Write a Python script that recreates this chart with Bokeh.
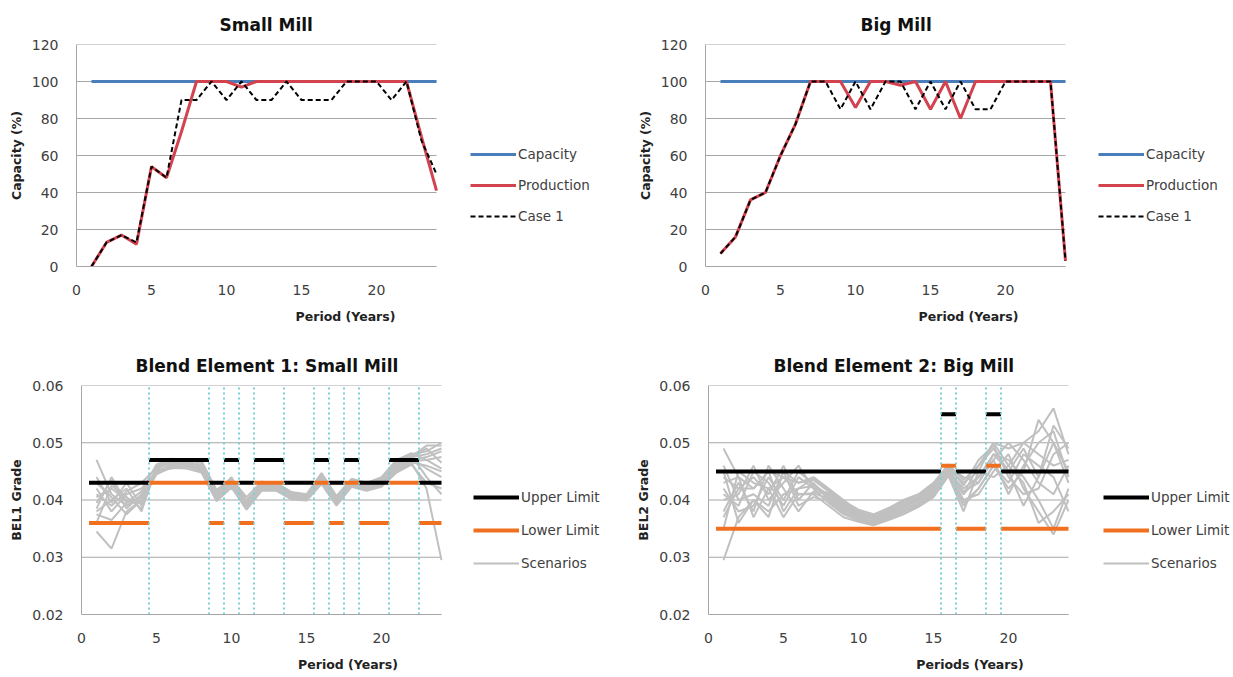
from bokeh.plotting import figure
from bokeh.models import Range1d, FixedTicker, PrintfTickFormatter, Legend, LegendItem
from bokeh.layouts import column, row
from bokeh.embed import file_html
from bokeh.resources import INLINE

FONT = "DejaVu Sans"

# ---------------- data ----------------
periods = [1, 2, 3, 4, 5, 6, 7, 8, 9, 10, 11, 12, 13, 14, 15, 16, 17, 18, 19, 20, 21, 22, 23, 24]
x_ticks = [0, 5, 10, 15, 20]
cap_ticks = [0, 20, 40, 60, 80, 100, 120]
grade_ticks = [0.02, 0.03, 0.04, 0.05, 0.06]

small_capacity = [100, 100, 100, 100, 100, 100, 100, 100, 100, 100, 100, 100,
                  100, 100, 100, 100, 100, 100, 100, 100, 100, 100, 100, 100]
small_production = [0, 13, 17, 12, 54, 48, 73, 100, 100, 100, 97, 100,
                    100, 100, 100, 100, 100, 100, 100, 100, 100, 100, 70, 41]
small_case1 = [0, 13, 17, 13, 54, 48, 90, 90, 100, 90, 100, 90,
               90, 100, 90, 90, 90, 100, 100, 100, 90, 100, 68, 50]

big_capacity = [100, 100, 100, 100, 100, 100, 100, 100, 100, 100, 100, 100,
                100, 100, 100, 100, 100, 100, 100, 100, 100, 100, 100, 100]
big_production = [7, 16, 36, 40, 60, 77, 100, 100, 100, 86, 100, 100,
                  98, 100, 85, 100, 80, 100, 100, 100, 100, 100, 100, 3]
big_case1 = [7, 16, 36, 40, 60, 77, 100, 100, 85, 100, 85, 100,
             100, 85, 100, 85, 100, 85, 85, 100, 100, 100, 100, 3]

bel1_upper = [0.043, 0.043, 0.043, 0.043, 0.047, 0.047, 0.047, 0.047, 0.043, 0.047, 0.043, 0.047,
              0.047, 0.043, 0.043, 0.047, 0.043, 0.047, 0.043, 0.043, 0.047, 0.047, 0.043, 0.043]
bel1_lower = [0.036, 0.036, 0.036, 0.036, 0.043, 0.043, 0.043, 0.043, 0.036, 0.043, 0.036, 0.043,
              0.043, 0.036, 0.036, 0.043, 0.036, 0.043, 0.036, 0.036, 0.043, 0.043, 0.036, 0.036]
bel1_scenarios = [
    [0.0405, 0.0420, 0.0400, 0.0395, 0.0455, 0.0465, 0.0468, 0.0460, 0.0410, 0.0435, 0.0395, 0.0425,
     0.0425, 0.0410, 0.0405, 0.0440, 0.0400, 0.0430, 0.0425, 0.0432, 0.0462, 0.0475, 0.0480, 0.0490],
    [0.0470, 0.0410, 0.0390, 0.0405, 0.0450, 0.0460, 0.0462, 0.0455, 0.0405, 0.0430, 0.0390, 0.0423,
     0.0420, 0.0405, 0.0402, 0.0435, 0.0395, 0.0428, 0.0420, 0.0428, 0.0455, 0.0470, 0.0475, 0.0485],
    [0.0345, 0.0315, 0.0380, 0.0400, 0.0445, 0.0458, 0.0460, 0.0450, 0.0400, 0.0428, 0.0385, 0.0420,
     0.0418, 0.0403, 0.0400, 0.0430, 0.0392, 0.0425, 0.0418, 0.0425, 0.0450, 0.0465, 0.0420, 0.0295],
    [0.0380, 0.0400, 0.0420, 0.0380, 0.0460, 0.0468, 0.0470, 0.0465, 0.0415, 0.0438, 0.0400, 0.0428,
     0.0428, 0.0412, 0.0408, 0.0445, 0.0405, 0.0435, 0.0428, 0.0438, 0.0468, 0.0480, 0.0485, 0.0500],
    [0.0420, 0.0380, 0.0410, 0.0420, 0.0448, 0.0462, 0.0465, 0.0458, 0.0408, 0.0432, 0.0392, 0.0426,
     0.0422, 0.0408, 0.0404, 0.0438, 0.0398, 0.0432, 0.0422, 0.0430, 0.0458, 0.0472, 0.0455, 0.0440],
    [0.0395, 0.0435, 0.0385, 0.0410, 0.0452, 0.0455, 0.0458, 0.0452, 0.0402, 0.0425, 0.0398, 0.0418,
     0.0424, 0.0406, 0.0403, 0.0433, 0.0402, 0.0427, 0.0424, 0.0427, 0.0452, 0.0468, 0.0470, 0.0475],
    [0.0440, 0.0395, 0.0430, 0.0390, 0.0458, 0.0466, 0.0464, 0.0462, 0.0412, 0.0440, 0.0388, 0.0430,
     0.0427, 0.0409, 0.0406, 0.0442, 0.0397, 0.0433, 0.0426, 0.0434, 0.0465, 0.0478, 0.0440, 0.0410],
    [0.0360, 0.0425, 0.0405, 0.0385, 0.0452, 0.0470, 0.0466, 0.0456, 0.0407, 0.0434, 0.0393, 0.0424,
     0.0421, 0.0404, 0.0407, 0.0437, 0.0401, 0.0429, 0.0421, 0.0429, 0.0460, 0.0474, 0.0490, 0.0465],
    [0.0385, 0.0440, 0.0395, 0.0415, 0.0462, 0.0472, 0.0470, 0.0468, 0.0418, 0.0437, 0.0405, 0.0432,
     0.0430, 0.0414, 0.0410, 0.0447, 0.0407, 0.0437, 0.0430, 0.0440, 0.0470, 0.0482, 0.0470, 0.0455],
    [0.0430, 0.0405, 0.0375, 0.0400, 0.0446, 0.0456, 0.0455, 0.0448, 0.0398, 0.0422, 0.0383, 0.0416,
     0.0416, 0.0401, 0.0399, 0.0428, 0.0390, 0.0423, 0.0416, 0.0423, 0.0448, 0.0462, 0.0430, 0.0420],
    [0.0410, 0.0390, 0.0415, 0.0430, 0.0456, 0.0464, 0.0467, 0.0459, 0.0409, 0.0436, 0.0396, 0.0427,
     0.0426, 0.0411, 0.0405, 0.0441, 0.0403, 0.0431, 0.0427, 0.0436, 0.0463, 0.0476, 0.0495, 0.0495],
    [0.0375, 0.0365, 0.0395, 0.0405, 0.0449, 0.0461, 0.0463, 0.0453, 0.0403, 0.0429, 0.0391, 0.0421,
     0.0419, 0.0402, 0.0401, 0.0431, 0.0394, 0.0426, 0.0419, 0.0426, 0.0453, 0.0466, 0.0460, 0.0450],
]

bel2_upper = [0.045, 0.045, 0.045, 0.045, 0.045, 0.045, 0.045, 0.045, 0.045, 0.045, 0.045, 0.045,
              0.045, 0.045, 0.045, 0.055, 0.045, 0.045, 0.055, 0.045, 0.045, 0.045, 0.045, 0.045]
bel2_lower = [0.035, 0.035, 0.035, 0.035, 0.035, 0.035, 0.035, 0.035, 0.035, 0.035, 0.035, 0.035,
              0.035, 0.035, 0.035, 0.046, 0.035, 0.035, 0.046, 0.035, 0.035, 0.035, 0.035, 0.035]
bel2_scenarios = [
    [0.0490, 0.0440, 0.0420, 0.0450, 0.0440, 0.0430, 0.0435, 0.0415, 0.0395, 0.0378, 0.0370, 0.0380,
     0.0395, 0.0405, 0.0425, 0.0455, 0.0430, 0.0450, 0.0500, 0.0490, 0.0500, 0.0520, 0.0560, 0.0480],
    [0.0295, 0.0370, 0.0400, 0.0380, 0.0410, 0.0420, 0.0425, 0.0405, 0.0385, 0.0372, 0.0365, 0.0375,
     0.0390, 0.0400, 0.0420, 0.0450, 0.0420, 0.0440, 0.0480, 0.0470, 0.0440, 0.0400, 0.0350, 0.0420],
    [0.0440, 0.0420, 0.0440, 0.0410, 0.0460, 0.0400, 0.0430, 0.0400, 0.0380, 0.0368, 0.0360, 0.0370,
     0.0385, 0.0395, 0.0415, 0.0445, 0.0390, 0.0420, 0.0460, 0.0430, 0.0480, 0.0460, 0.0440, 0.0380],
    [0.0410, 0.0390, 0.0450, 0.0430, 0.0390, 0.0440, 0.0420, 0.0395, 0.0375, 0.0365, 0.0358, 0.0368,
     0.0380, 0.0392, 0.0410, 0.0448, 0.0410, 0.0460, 0.0490, 0.0450, 0.0390, 0.0440, 0.0500, 0.0450],
    [0.0380, 0.0430, 0.0380, 0.0460, 0.0420, 0.0380, 0.0415, 0.0410, 0.0390, 0.0375, 0.0368, 0.0378,
     0.0392, 0.0402, 0.0422, 0.0458, 0.0440, 0.0430, 0.0470, 0.0410, 0.0460, 0.0500, 0.0520, 0.0440],
    [0.0460, 0.0400, 0.0410, 0.0390, 0.0450, 0.0430, 0.0440, 0.0420, 0.0400, 0.0380, 0.0372, 0.0383,
     0.0398, 0.0408, 0.0428, 0.0452, 0.0400, 0.0410, 0.0450, 0.0480, 0.0420, 0.0380, 0.0340, 0.0400],
    [0.0350, 0.0450, 0.0430, 0.0420, 0.0370, 0.0410, 0.0410, 0.0390, 0.0370, 0.0362, 0.0356, 0.0365,
     0.0375, 0.0388, 0.0405, 0.0442, 0.0380, 0.0450, 0.0440, 0.0460, 0.0500, 0.0480, 0.0460, 0.0470],
    [0.0420, 0.0380, 0.0390, 0.0440, 0.0400, 0.0450, 0.0428, 0.0408, 0.0388, 0.0373, 0.0363, 0.0373,
     0.0388, 0.0398, 0.0418, 0.0460, 0.0425, 0.0470, 0.0495, 0.0440, 0.0410, 0.0420, 0.0480, 0.0500],
    [0.0400, 0.0410, 0.0460, 0.0400, 0.0430, 0.0460, 0.0420, 0.0412, 0.0392, 0.0376, 0.0367, 0.0376,
     0.0390, 0.0403, 0.0423, 0.0457, 0.0410, 0.0440, 0.0470, 0.0500, 0.0470, 0.0430, 0.0410, 0.0460],
    [0.0450, 0.0360, 0.0400, 0.0370, 0.0450, 0.0390, 0.0405, 0.0398, 0.0378, 0.0364, 0.0357, 0.0366,
     0.0378, 0.0390, 0.0408, 0.0444, 0.0395, 0.0420, 0.0460, 0.0420, 0.0450, 0.0540, 0.0500, 0.0430],
    [0.0370, 0.0420, 0.0420, 0.0450, 0.0380, 0.0420, 0.0438, 0.0418, 0.0398, 0.0383, 0.0375, 0.0386,
     0.0400, 0.0410, 0.0430, 0.0462, 0.0435, 0.0460, 0.0500, 0.0460, 0.0430, 0.0360, 0.0380, 0.0410],
    [0.0430, 0.0440, 0.0370, 0.0420, 0.0440, 0.0410, 0.0412, 0.0402, 0.0382, 0.0369, 0.0361, 0.0371,
     0.0383, 0.0394, 0.0413, 0.0447, 0.0415, 0.0430, 0.0480, 0.0450, 0.0490, 0.0440, 0.0530, 0.0490],
]

X_END = 24          # last period shown on the x axes
PLOT_PX = 360       # pixel width of the 0..24 data area

# ---------------- colours ----------------
BLUE = "#4a7ebb"
RED = "#d2434f"
ORANGE = "#f07020"
GRAY = "#c0c0c0"
CYAN = "#7fcfd8"
GRID = "#a6a6a6"


def base_fig(w, h, left, top, bottom, title, title_off, xlabel, ylabel, yr, yticks, fmt=None):
    right = 2
    frame_w = w - left - right
    p = figure(width=w, height=h,
               x_range=Range1d(0, X_END * frame_w / PLOT_PX), y_range=Range1d(*yr),
               output_backend="svg", toolbar_location=None, title=title,
               min_border_left=left, min_border_right=right,
               min_border_top=top, min_border_bottom=bottom)
    p.outline_line_color = None
    p.background_fill_color = "white"
    p.title.align = "left"
    p.title.offset = title_off
    p.title.standoff = 20
    p.title.text_font = FONT
    p.title.text_font_size = "17px"
    p.title.text_font_style = "bold"
    p.title.text_color = "#111111"
    p.xgrid.visible = False
    p.ygrid.visible = False
    # horizontal grid lines, only across the 0..24 data area
    n = len(yticks)
    p.segment([0] * n, yticks, [X_END] * n, yticks, line_color=GRID, line_width=1)
    p.xaxis.ticker = FixedTicker(ticks=x_ticks)
    p.xaxis.bounds = (0, X_END)
    p.yaxis.ticker = FixedTicker(ticks=yticks)
    if fmt:
        p.yaxis.formatter = PrintfTickFormatter(format=fmt)
    for ax in (p.xaxis[0], p.yaxis[0]):
        ax.axis_line_color = GRID
        ax.major_tick_line_color = None
        ax.minor_tick_line_color = None
        ax.major_label_text_font = FONT
        ax.major_label_text_font_size = "14px"
        ax.major_label_text_color = "#404040"
        ax.axis_label_text_font = FONT
        ax.axis_label_text_font_size = "12.5px"
        ax.axis_label_text_font_style = "bold"
        ax.axis_label_text_color = "#222222"
    p.xaxis.axis_label = xlabel
    p.yaxis.axis_label = ylabel
    p.xaxis.major_label_standoff = 12
    p.xaxis.axis_label_standoff = 11
    p.yaxis.major_label_standoff = 12
    p.yaxis.axis_label_standoff = 5
    return p


def add_legend(p, items, loc, spacing):
    lg = Legend(items=items, location=loc)
    lg.border_line_color = None
    lg.background_fill_alpha = 0
    lg.padding = 0
    lg.margin = 0
    lg.spacing = spacing
    lg.glyph_width = 46
    lg.glyph_height = 20
    lg.label_height = 20
    lg.label_standoff = 2
    lg.label_text_font = FONT
    lg.label_text_font_size = "13.5px"
    lg.label_text_color = "#404040"
    p.add_layout(lg, "center")


def capacity_fig(w, h, left, title, title_off, cap, prod, case, loc):
    p = base_fig(w, h, left, 44, 72, title, title_off, "Period (Years)", "Capacity (%)",
                 (0, 120), cap_ticks)
    r1 = p.line(periods, cap, line_color=BLUE, line_width=3)
    r2 = p.line(periods, prod, line_color=RED, line_width=3)
    r3 = p.line(periods, case, line_color="black", line_width=2, line_dash="5 3")
    add_legend(p, [LegendItem(label="Capacity", renderers=[r1]),
                   LegendItem(label="Production", renderers=[r2]),
                   LegendItem(label="Case 1", renderers=[r3])], loc, 11)
    return p


def grade_fig(w, h, left, title, title_off, xlabel, ylabel, upper, lower, scen, loc):
    p = base_fig(w, h, left, 47, 63, title, title_off, xlabel, ylabel,
                 (0.02, 0.06), grade_ticks, "%.2f")
    xs = [periods for _ in scen]
    rs = p.multi_line(xs, scen, line_color=GRAY, line_width=2)
    x0 = [t - 0.5 for t in periods]
    x1 = [min(t + 0.5, X_END) for t in periods]
    ru = p.segment(x0, upper, x1, upper, line_color="black", line_width=4)
    rl = p.segment(x0, lower, x1, lower, line_color=ORANGE, line_width=4)
    bounds = [periods[i] + 0.5 for i in range(len(periods) - 1) if upper[i] != upper[i + 1]]
    p.segment(bounds, [0.02] * len(bounds), bounds, [0.06] * len(bounds),
              line_color=CYAN, line_width=2, line_dash="2 3")
    add_legend(p, [LegendItem(label="Upper Limit", renderers=[ru]),
                   LegendItem(label="Lower Limit", renderers=[rl]),
                   LegendItem(label="Scenarios", renderers=[rs])], loc, 13)
    return p


p1 = capacity_fig(616, 338, 76, "Small Mill", 143, small_capacity, small_production, small_case1, (394, 40))
p2 = capacity_fig(617, 338, 89, "Big Mill", 155, big_capacity, big_production, big_case1, (393, 40))
p3 = grade_fig(616, 339, 81, "Blend Element 1: Small Mill", 54, "Period (Years)", "BEL1 Grade",
               bel1_upper, bel1_lower, bel1_scenarios, (392, 41))
p4 = grade_fig(617, 339, 92, "Blend Element 2: Big Mill", 65, "Periods (Years)", "BEL2 Grade",
               bel2_upper, bel2_lower, bel2_scenarios, (395, 41))

layout = column(row(p1, p2), row(p3, p4))
open("out.html", "w").write(file_html(layout, INLINE))
